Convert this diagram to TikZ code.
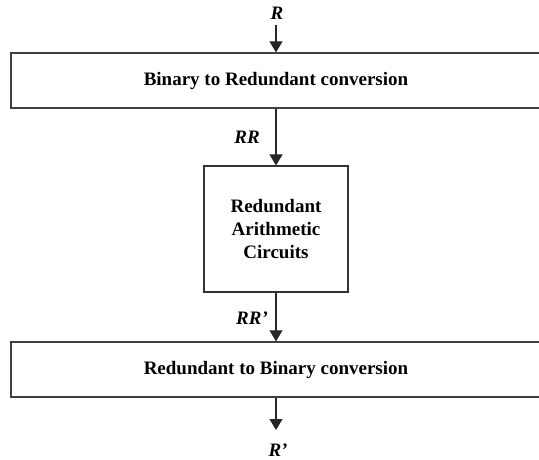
\documentclass[tikz,border=0pt]{standalone}
\usepackage{fontspec}
\setmainfont{Liberation Serif}
\usetikzlibrary{arrows.meta}
\begin{document}
\begin{tikzpicture}[x=1pt,y=-1pt,
  every node/.style={font=\fontsize{19}{23}\selectfont\bfseries},
  stage/.style={draw=black!75,line width=1.3pt,minimum width=530pt,minimum height=55pt,inner sep=0pt},
  core/.style={draw=black!80,line width=1.1pt,minimum width=144pt,minimum height=126pt,inner sep=0pt,align=center},
  sig/.style={font=\fontsize{19}{23}\selectfont\bfseries\itshape,inner sep=0pt},
  flow/.style={draw=black!85,line width=1.1pt,-{Triangle[width=13pt,length=11pt]}}]
\useasboundingbox (0,0) rectangle (539,459);
\clip (0,0) rectangle (539,459);
% blocks
\node[stage] (b2r) at (276,80.5) {Binary to Redundant conversion};
\node[core] (arith) at (276,229) {Redundant\\Arithmetic\\Circuits};
\node[stage] (r2b) at (276,369.5) {Redundant to Binary conversion};
% free ends of the input and output arrows
\coordinate (in) at (276,25);
\coordinate (out) at (276,430);
% signal names
\node[sig] (lr) at (277,13) {R};
\node[sig] (lrr) at (247,137) {RR};
\node[sig] (lrrp) at (252,318) {RR’};
\node[sig] (lrp) at (278,450) {R’};
% connectors
\draw[flow] (in) -- (b2r.north);
\draw[flow] (b2r.south) -- (arith.north);
\draw[flow] (arith.south) -- (r2b.north);
\draw[flow] (r2b.south) -- (out);
\end{tikzpicture}
\end{document}
